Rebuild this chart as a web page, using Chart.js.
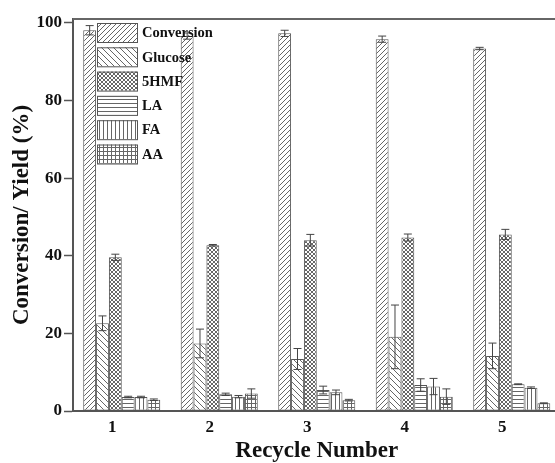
<!DOCTYPE html>
<html>
<head>
<meta charset="utf-8">
<script src="https://cdn.jsdelivr.net/npm/chart.js@4/dist/chart.umd.min.js"></script>
<style>
  html, body { margin: 0; padding: 0; background: #fff; overflow: hidden; }
  #wrap { width: 565px; height: 463px; position: relative; }
</style>
</head>
<body>
<div id="wrap"><canvas id="chart"></canvas></div>
<script>
// recycle runs
const cycles = ['1', '2', '3', '4', '5'];
const seriesNames = ['Conversion', 'Glucose', '5HMF', 'LA', 'FA', 'AA'];

// values (%)
const conversion = [98.1, 96.6, 97.3, 95.8, 93.4];
const glucose = [22.6, 17.4, 13.4, 19.1, 14.2];
const hmf = [39.6, 42.7, 44.0, 44.7, 45.5];
const la = [3.6, 4.3, 5.4, 6.7, 6.9];
const fa = [3.6, 3.7, 4.8, 6.3, 6.0];
const aa = [2.9, 4.5, 2.8, 3.7, 2.0];

// error bars (+/-)
const conversionErr = [1.2, 0.8, 0.8, 0.8, 0.3];
const glucoseErr = [1.9, 3.7, 2.7, 8.2, 3.3];
const hmfErr = [0.8, 0.2, 1.5, 0.9, 1.3];
const laErr = [0.2, 0.3, 1.0, 1.6, 0.1];
const faErr = [0.2, 0.3, 0.6, 2.1, 0.2];
const aaErr = [0.2, 1.2, 0.2, 2.0, 0.1];

const yTicks = [0, 20, 40, 60, 80, 100];

const serif = '"Liberation Serif", "Times New Roman", serif';
const lineGrey = '#666';
const edgeGrey = '#555';

// hatch patterns like the original Origin fills
const makePattern = (size, draw) => {
    const c = document.createElement('canvas');
    c.width = size;
    c.height = size;
    const g = c.getContext('2d');
    g.fillStyle = '#fff';
    g.fillRect(0, 0, size, size);
    g.strokeStyle = lineGrey;
    g.lineWidth = 1;
    draw(g, size);
    return g.createPattern(c, 'repeat');
};

const slash = (g, s) => {
    g.beginPath();
    g.moveTo(0, s); g.lineTo(s, 0);
    g.moveTo(-1, 1); g.lineTo(1, -1);
    g.moveTo(s - 1, s + 1); g.lineTo(s + 1, s - 1);
    g.stroke();
};
const backslash = (g, s) => {
    g.beginPath();
    g.moveTo(0, 0); g.lineTo(s, s);
    g.moveTo(-1, s - 1); g.lineTo(1, s + 1);
    g.moveTo(s - 1, -1); g.lineTo(s + 1, 1);
    g.stroke();
};
const cross = (g, s) => {
    slash(g, s);
    backslash(g, s);
};
const horiz = (g, s) => {
    g.beginPath();
    g.moveTo(0, s - 0.5); g.lineTo(s, s - 0.5);
    g.stroke();
};
const vert = (g, s) => {
    g.beginPath();
    g.moveTo(s - 0.5, 0); g.lineTo(s - 0.5, s);
    g.stroke();
};
const grid = (g, s) => {
    horiz(g, s);
    vert(g, s);
};

const fills = [
    makePattern(5, slash),
    makePattern(6, backslash),
    makePattern(4, cross),
    makePattern(4, horiz),
    makePattern(4, vert),
    makePattern(4, grid)
];

const values = [conversion, glucose, hmf, la, fa, aa];
const errors = [conversionErr, glucoseErr, hmfErr, laErr, faErr, aaErr];

const errorBars = {
    id: 'errorBars',
    afterDatasetsDraw(chart) {
        const ctx = chart.ctx;
        const y = chart.scales.y;
        ctx.save();
        ctx.strokeStyle = '#444';
        ctx.lineWidth = 1;
        chart.data.datasets.forEach((ds, i) => {
            const meta = chart.getDatasetMeta(i);
            meta.data.forEach((bar, j) => {
                const v = ds.data[j];
                const e = ds.err[j];
                const top = y.getPixelForValue(v + e);
                const bot = y.getPixelForValue(v - e);
                ctx.beginPath();
                ctx.moveTo(bar.x, top); ctx.lineTo(bar.x, bot);
                ctx.moveTo(bar.x - 4, top); ctx.lineTo(bar.x + 4, top);
                ctx.moveTo(bar.x - 4, bot); ctx.lineTo(bar.x + 4, bot);
                ctx.stroke();
            });
        });
        ctx.restore();
    }
};

// top frame line plus a stacked legend inside the plot
const frameAndLegend = {
    id: 'frameAndLegend',
    afterDraw(chart) {
        const ctx = chart.ctx;
        const area = chart.chartArea;
        ctx.save();
        ctx.strokeStyle = '#666';
        ctx.lineWidth = 2;
        ctx.beginPath();
        ctx.moveTo(area.left, area.top);
        ctx.lineTo(area.right, area.top);
        ctx.stroke();

        const x0 = area.left + 24;
        const y0 = area.top + 4;
        ctx.font = 'bold 14.5px ' + serif;
        ctx.textBaseline = 'middle';
        chart.data.datasets.forEach((ds, i) => {
            const by = y0 + i * 24.3;
            ctx.fillStyle = ds.backgroundColor;
            ctx.fillRect(x0, by, 40, 19);
            ctx.strokeStyle = edgeGrey;
            ctx.lineWidth = 1;
            ctx.strokeRect(x0 + 0.5, by + 0.5, 40, 19);
            ctx.fillStyle = '#111';
            ctx.fillText(ds.label, x0 + 45, by + 10.5);
        });
        ctx.restore();
    }
};

new Chart(document.getElementById('chart'), {
    type: 'bar',
    data: {
        labels: cycles,
        datasets: seriesNames.map((name, i) => ({
            label: name,
            data: values[i],
            err: errors[i],
            backgroundColor: fills[i],
            borderColor: edgeGrey,
            borderWidth: 1,
            borderSkipped: false,
            categoryPercentage: 0.79,
            barPercentage: 1
        }))
    },
    options: {
        responsive: true,
        maintainAspectRatio: false,
        animation: false,
        devicePixelRatio: 1,
        layout: { padding: { top: 19, right: 4.5, left: 0, bottom: 0 } },
        plugins: {
            legend: { display: false },
            tooltip: { enabled: false }
        },
        scales: {
            x: {
                offset: true,
                grid: { display: false, drawTicks: false },
                border: { display: true, color: edgeGrey, width: 2 },
                ticks: {
                    color: '#111',
                    font: { family: serif, size: 17, weight: 'bold' },
                    labelOffset: -9.5,
                    padding: 6
                },
                title: {
                    display: true,
                    text: 'Recycle Number',
                    color: '#111',
                    font: { family: serif, size: 23, weight: 'bold' },
                    padding: { top: 0, bottom: -2 }
                },
                afterFit(scale) { scale.height = 52; }
            },
            y: {
                min: 0,
                max: 101,
                afterBuildTicks(scale) {
                    scale.ticks = yTicks.map(v => ({ value: v }));
                },
                grid: {
                    drawOnChartArea: false,
                    drawTicks: true,
                    tickLength: 9,
                    tickColor: edgeGrey,
                    tickWidth: 1.5
                },
                border: { display: true, color: edgeGrey, width: 2 },
                ticks: {
                    color: '#111',
                    font: { family: serif, size: 17, weight: 'bold' },
                    padding: 2
                },
                title: {
                    display: true,
                    text: 'Conversion/ Yield (%)',
                    color: '#111',
                    font: { family: serif, size: 23, weight: 'bold' },
                    padding: { top: 8, bottom: 2 }
                },
                afterFit(scale) { scale.width = 73; }
            }
        }
    },
    plugins: [errorBars, frameAndLegend]
});
</script>
</body>
</html>
